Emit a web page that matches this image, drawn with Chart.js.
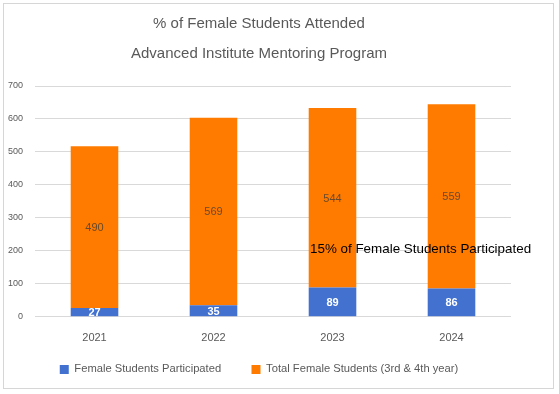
<!DOCTYPE html>
<html>
<head>
<meta charset="utf-8">
<script src="https://cdn.jsdelivr.net/npm/chart.js@4"></script>
<style>
  html, body { margin: 0; padding: 0; background: #fff; }
  #wrap { position: relative; width: 559px; height: 394px; }
  #frame { position: absolute; left: 3px; top: 3px; width: 551px; height: 386px; border: 1px solid #d6d6d6; box-sizing: border-box; pointer-events: none; }
  canvas { position: absolute; left: 0; top: 0; }
</style>
</head>
<body>
<div id="wrap">
  <canvas id="c" width="559" height="394"></canvas>
  <div id="frame"></div>
</div>
<script>
const titleLines = ['% of Female Students Attended', 'Advanced Institute Mentoring Program'];
const years = ['2021', '2022', '2023', '2024'];
const participated = [27, 35, 89, 86];
const totalFemale = [490, 569, 544, 559];
const seriesNames = ['Female Students Participated', 'Total Female Students (3rd & 4th year)'];
const yTicks = [0, 100, 200, 300, 400, 500, 600, 700];
const noteText = '15% of Female Students Participated';
const notePosition = { x: 2.74, y: 204 };

const FONT = '"Liberation Sans", Arial, Helvetica, sans-serif';
const GREY = '#595959';

const labelPlugin = {
  id: 'segLabels',
  afterDatasetsDraw(chart) {
    const ctx = chart.ctx;
    ctx.save();
    ctx.textAlign = 'center';
    ctx.textBaseline = 'middle';
    chart.data.datasets.forEach((ds, di) => {
      const meta = chart.getDatasetMeta(di);
      meta.data.forEach((el, i) => {
        const cy = (el.y + el.base) / 2;
        if (di === 0) {
          ctx.fillStyle = '#ffffff';
          ctx.font = 'bold 11px ' + FONT;
        } else {
          ctx.fillStyle = '#6b4a2a';
          ctx.font = '11px ' + FONT;
        }
        ctx.fillText(String(ds.data[i]), el.x, cy + 1);
      });
    });
    const xs = chart.scales.x, ys = chart.scales.y;
    ctx.fillStyle = '#000000';
    ctx.font = '13.4px ' + FONT;
    ctx.fillText(noteText, xs.getPixelForValue(notePosition.x), ys.getPixelForValue(notePosition.y));
    ctx.restore();
  }
};

new Chart(document.getElementById('c'), {
  type: 'bar',
  data: {
    labels: years,
    datasets: [
      { label: seriesNames[0], data: participated, backgroundColor: '#4271cf', barPercentage: 0.4, categoryPercentage: 1.0 },
      { label: seriesNames[1], data: totalFemale, backgroundColor: '#ff7b00', barPercentage: 0.4, categoryPercentage: 1.0 }
    ]
  },
  options: {
    responsive: false,
    animation: false,
    devicePixelRatio: 1,
    layout: { padding: { left: 7, right: 48, top: 0, bottom: 9 } },
    plugins: {
      title: {
        display: true,
        text: titleLines,
        color: GREY,
        font: { family: FONT, size: 15, weight: 'normal', lineHeight: 2 },
        padding: { top: 9, bottom: 17 }
      },
      legend: {
        position: 'bottom',
        labels: {
          color: GREY,
          font: { family: FONT, size: 11.2 },
          boxWidth: 9,
          boxHeight: 9,
          padding: 8,
          generateLabels(chart) {
            const items = Chart.defaults.plugins.legend.labels.generateLabels(chart);
            items.forEach((it, i) => { if (i === 0) it.text = it.text + '\u2003\u2003'; });
            return items;
          }
        }
      },
      tooltip: { enabled: false }
    },
    scales: {
      x: {
        stacked: true,
        grid: { display: false, drawTicks: false },
        border: { display: false },
        ticks: { color: GREY, font: { family: FONT, size: 11 }, padding: 15 },
        afterFit(scale) { scale.height = 39; }
      },
      y: {
        stacked: true,
        min: 0,
        max: 700,
        afterBuildTicks(scale) { scale.ticks = yTicks.map(v => ({ value: v })); },
        grid: { color: '#d9d9d9', drawTicks: false },
        border: { display: false },
        ticks: { color: GREY, font: { family: FONT, size: 9 }, padding: 12 },
        afterFit(scale) { scale.width = 28; }
      }
    }
  },
  plugins: [labelPlugin]
});
</script>
</body>
</html>
